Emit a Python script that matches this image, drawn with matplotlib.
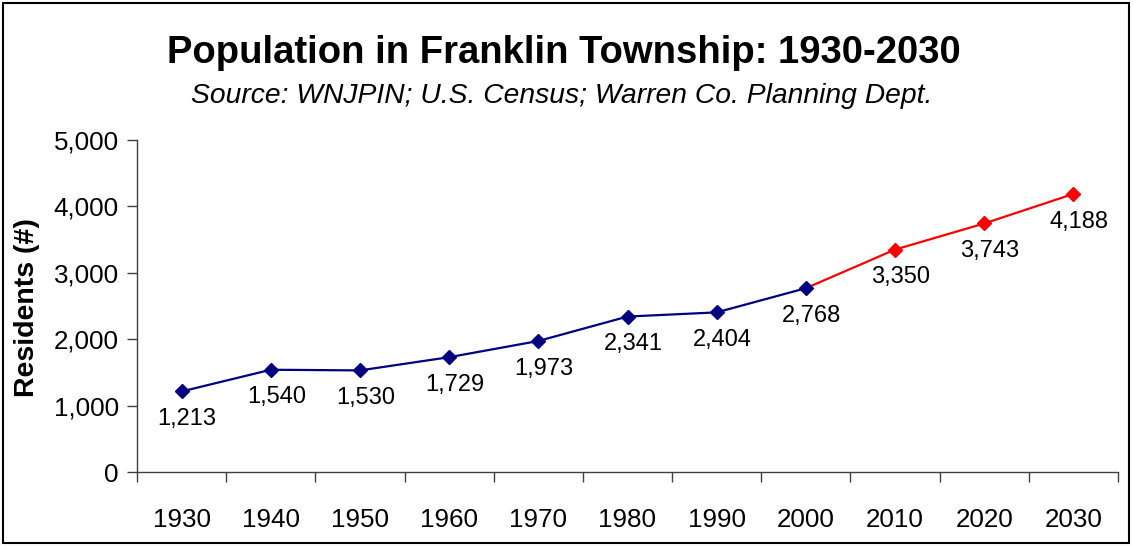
import matplotlib
matplotlib.use("Agg")
import matplotlib.pyplot as plt
from matplotlib.ticker import FuncFormatter
from matplotlib.patches import Rectangle

years = ["1930", "1940", "1950", "1960", "1970", "1980", "1990", "2000", "2010", "2020", "2030"]
census = [1213, 1540, 1530, 1729, 1973, 2341, 2404, 2768]
projected = [2768, 3350, 3743, 4188]

plt.rcParams['font.family'] = ['Liberation Sans', 'DejaVu Sans']

W, H = 1133, 546
fig = plt.figure(figsize=(W / 100, H / 100), dpi=100)
ax = fig.add_axes([137 / W, 1 - 472 / H, (1118 - 137) / W, (472 - 140) / H])

x_all = list(range(len(years)))
n_c = len(census)
x_c = x_all[:n_c]
x_p = x_all[n_c - 1:n_c - 1 + len(projected)]

navy = '#000080'
red = '#FF0000'
ax.plot(x_p, projected, color=red, lw=1.6, zorder=2)
ax.plot(x_p[1:], projected[1:], ls='none', marker='D', ms=7.5, color=red, zorder=3)
ax.plot(x_c, census, color=navy, lw=1.6, marker='D', ms=7.5, zorder=3)

for xi, v in list(zip(x_c, census)) + list(zip(x_p[1:], projected[1:])):
    ax.annotate(f"{v:,}", (xi, v), xytext=(4, -12), textcoords='offset points',
                ha='center', va='top', fontsize=17)

ax.set_xlim(-0.5, len(years) - 0.5)
ax.set_ylim(0, 5000)
ax.set_yticks([0, 1000, 2000, 3000, 4000, 5000])
ax.yaxis.set_major_formatter(FuncFormatter(lambda v, p: f"{int(v):,}"))
ax.set_xticks(x_all)
ax.set_xticklabels(years)
ax.set_xticks([i - 0.5 for i in range(len(years) + 1)], minor=True)
ax.tick_params(axis='x', which='major', length=0, pad=26, labelsize=18.7)
ax.tick_params(axis='x', which='minor', length=7, width=1, color='#404040')
ax.tick_params(axis='y', length=7, width=1, color='#404040', labelsize=18.7, pad=6)
for s in ['top', 'right']:
    ax.spines[s].set_visible(False)
for s in ['left', 'bottom']:
    ax.spines[s].set_color('#404040')
    ax.spines[s].set_linewidth(1)

ax.set_ylabel("Residents (#)", fontsize=20.5, fontweight='bold')
ax.yaxis.set_label_coords(-0.099, (472 - 308) / (472 - 140))

fig.text(564 / W, 1 - 63 / H, "Population in Franklin Township: 1930-2030",
         ha='center', va='baseline', fontsize=27.5, fontweight='bold')
fig.text(562 / W, 1 - 103 / H, "Source: WNJPIN; U.S. Census; Warren Co. Planning Dept.",
         ha='center', va='baseline', fontsize=20.3, style='italic')

fig.patches.append(Rectangle((3 / W, 3 / H), 1126 / W, 540 / H, transform=fig.transFigure,
                             fill=False, edgecolor='black', linewidth=1.5))

fig.savefig("out.png", dpi=100)
